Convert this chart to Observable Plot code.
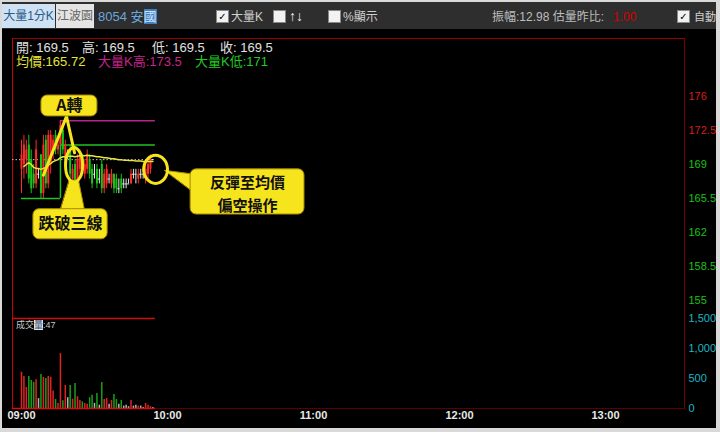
<!DOCTYPE html>
<html><head><meta charset="utf-8">
<script src="https://cdn.jsdelivr.net/npm/d3@7"></script>
<script src="https://cdn.jsdelivr.net/npm/@observablehq/plot@0.6"></script>
<style>
html,body{margin:0;padding:0;background:#d9d9d9;width:720px;height:432px;overflow:hidden;}
#wrap{position:absolute;left:0;top:0;width:716px;height:428px;overflow:hidden;}
#panel{position:absolute;left:2px;top:2px;width:714px;height:426px;background:#000;}
#toolbar{position:absolute;left:2px;top:2px;width:714px;height:27px;background:#2e2e2e;}
.t{position:absolute;white-space:nowrap;font-family:"Liberation Sans","Noto Sans CJK TC",sans-serif;font-size:12px;line-height:14px;color:#d0d0d0;}
.cb{position:absolute;width:11px;height:11px;background:#f2f2f2;border:1px solid #888;top:10px;font:bold 10px/11px "DejaVu Sans",sans-serif;color:#000;text-align:center;}
.ln{position:absolute;}
.plot{position:absolute;left:0;}
.info{font-size:13px;line-height:14px;}
</style></head>
<body>
<div id="wrap">
  <div id="panel"></div>
  <div id="toolbar"></div>
  <div class="t" style="left:2px;top:4px;width:53px;height:24px;line-height:24px;background:#cfe2f3;color:#2a5a8a;text-align:center;">大量1分K</div>
  <div class="t" style="left:56px;top:4px;width:38px;height:24px;line-height:24px;background:#e4e4e4;color:#666;text-align:center;">江波園</div>
  <div class="t" style="left:98px;top:10px;font-size:13px;color:#6aa6dc;">8054 安<span style="background:#3f7fc4;color:#cfe3f7;">國</span></div>
  <div class="cb" style="left:216px;">✓</div>
  <div class="t" style="left:231px;top:10px;">大量K</div>
  <div class="cb" style="left:273px;"></div>
  <div class="t" style="left:289px;top:9px;font-size:14px;font-weight:bold;color:#f0f0f0;">↑↓</div>
  <div class="cb" style="left:328px;"></div>
  <div class="t" style="left:343px;top:10px;">%顯示</div>
  <div class="t" style="left:492px;top:10px;color:#bdbdbd;">振幅:12.98 估量昨比:</div>
  <div class="t" style="left:613px;top:10px;color:#d40000;">1.00</div>
  <div class="cb" style="left:677px;">✓</div>
  <div class="t" style="left:694px;top:10px;font-size:11px;">自動</div>

  <div class="ln" style="left:12px;top:38px;width:672px;height:1px;background:#9a0000;"></div>
  <div class="ln" style="left:12px;top:38px;width:1px;height:371px;background:#c80000;"></div>
  <div class="ln" style="left:684px;top:38px;width:1px;height:371px;background:#7a0000;"></div>
  <div class="ln" style="left:12px;top:408px;width:673px;height:1px;background:#5a0000;"></div>

  <div id="price" class="plot" style="top:38px;"></div>
  <div id="vol" class="plot" style="top:300px;"></div>

  <div class="t info" style="left:16px;top:41px;color:#e0e0e0;">開: 169.5</div>
  <div class="t info" style="left:82px;top:41px;color:#e0e0e0;">高: 169.5</div>
  <div class="t info" style="left:152px;top:41px;color:#e0e0e0;">低: 169.5</div>
  <div class="t info" style="left:220px;top:41px;color:#e0e0e0;">收: 169.5</div>
  <div class="t info" style="left:16px;top:55px;color:#e4e43a;">均價:165.72</div>
  <div class="t info" style="left:98px;top:55px;color:#c8228c;">大量K高:173.5</div>
  <div class="t info" style="left:195px;top:55px;color:#22cc22;">大量K低:171</div>
  <div class="t" style="left:16px;top:320px;font-size:9px;line-height:10px;color:#c8c8c8;">成交<span style="background:#dbe6f3;color:#345;">量</span>:47</div>
</div>
<script>
// ---- data (one-minute bars from 09:00) ----
const open   = [168.5,169,169.5,171,169.5,168,167,168,170,166,171.5,167,169,170,172,170.5,171,172.5,169.5,170,170.5,167.5,169,167,168.5,170,168,168.5,169.5,168.5,168,168.5,167.5,169,166.5,167,167.5,167,168,167.5,166.5,167.5,167,167,167,167,168,168,167.5,168,168,167.5,168,168.5,169.5];
const high   = [171.5,172,171.5,172,170.5,169,171.5,168.5,170,172,172,172.5,172.5,172,172.5,171.5,173.5,173,171.5,170.5,171,169,169.5,170,170.5,170,169.5,170.5,170,169,169,169,168.5,169.5,168.5,169,168,168.5,168,168,167.5,168,167.5,167.5,167.5,168.5,168.5,168.5,168.5,168.5,168,169,169.5,170,169.5];
const low    = [166,167.5,168,167,166,166.5,166.5,167.5,165.5,165.5,166.5,166.5,168,169.5,170,170,171,170,169,169.5,167.5,167,166.5,166.5,168,168,167.5,168,167.5,166.5,167.5,166.5,167,166,166,166.5,167,166.5,166,166,166,166,166.5,166.5,167,167,167.5,167,167,167.5,167.5,167,167.5,168,169.5];
const close  = [170,171,170.5,167.5,166.5,167,170.5,168,166,171,167,172,172,171.5,170.5,171,173,170.5,171,170,168,168.5,167,169.5,170,168.5,169,170,168,167,168,167,167.5,166.5,168,168.5,167.5,168,166.5,166.5,166.5,166.5,167,167,167,168,168,168,168,168,168,168.5,169,169.5,169.5];
const volume = [605,535,350,535,465,435,480,165,565,520,500,535,520,290,150,85,915,130,385,180,385,155,415,195,135,110,85,70,180,220,85,250,55,435,150,165,70,135,235,150,70,135,40,55,30,135,40,55,40,40,15,85,55,30,15];
// average price, minutes 1..54
const avgPrice = [168.8,169,169.2,169,168.7,168.6,168.6,168.5,168.6,168.7,168.9,169.1,169.3,169.4,169.5,169.7,169.8,169.8,169.85,169.85,169.85,169.8,169.85,169.9,169.9,169.9,169.95,169.9,169.9,169.85,169.8,169.8,169.75,169.7,169.7,169.65,169.6,169.6,169.55,169.5,169.5,169.45,169.45,169.4,169.4,169.4,169.35,169.35,169.35,169.3,169.3,169.3,169.3,169.3];

const timeTicks  = [0,60,120,180,240];
const timeLabels = ["09:00","10:00","11:00","12:00","13:00"];
const priceUpTicks   = [176,172.5];
const priceDownTicks = [169,165.5,162,158.5,155];
const volTicks = [0,500,1000,1500];
const refPrice = 169.5;
const bigK = {minute:16, high:173.5, low:171};
const prevBigLow = 165.5;
const dataEnd = 55;
const frameStart = -3.7;

// annotations in data space (minute, price)
const boxes = [
  {x1:8.2, x2:31.2, y1:173.95, y2:176.1},
  {x1:4.9, x2:35.4, y1:161.3, y2:164.4},
  {x1:69.5, x2:116.3, y1:163.85, y2:168.5}
];
const boxTexts = [
  {m:19.7, v:175.0, t:"A轉", s:16},
  {m:20.1, v:162.85, t:"跌破三線", s:16},
  {m:92.9, v:166.15, t:"反彈至均價\n偏空操作", s:15}
];
const aShape = [{m:9.0,v:167.9},{m:18.5,v:173.95},{m:21.8,v:170.2}];
const circles = [{cx:21.6, cy:168.95, rx:3.5, ry:1.8},{cx:55.1, cy:168.5, rx:4.9, ry:1.45}];
const tails = [
  [{m:19.7,v:167.4},{m:23.4,v:167.4},{m:25.9,v:164.3},{m:16.0,v:164.3}],
  [{m:58.8,v:168.4},{m:71.1,v:168.0},{m:71.1,v:166.1}]
];

const UP="#ff2a2a", DOWN="#18c418", FLAT="#e6e6e6";
const VUP="#e02424", VDOWN="#1a9e1a", VFLAT="#b4b4b4";
const candles = open.map((o,i)=>({m:i, o, h:high[i], l:low[i], c:close[i], v:volume[i],
  col: close[i]>o?UP:close[i]<o?DOWN:FLAT, vcol: close[i]>o?VUP:close[i]<o?VDOWN:VFLAT}));
const avgData = avgPrice.map((v,i)=>({m:i+1, v}));
const ellipseData = circles.flatMap((c,j)=>d3.range(8).map(k=>({id:j, m:c.cx+c.rx*Math.cos(k*Math.PI/4), v:c.cy+c.ry*Math.sin(k*Math.PI/4)})));
const tailData = tails.flatMap((t,j)=>t.map(p=>({...p, id:j})));

const YEL="#f6e41c", YELS="#a88a00";
const X = {domain:[0,270], range:[21,678]};
const font = '"Liberation Sans","Noto Sans CJK TC",sans-serif';
const style = {background:"transparent", color:"#ddd", fontFamily:font, fontSize:"11px", overflow:"visible"};

const pricePlot = Plot.plot({
  width:716, height:281, marginLeft:12, marginRight:32, marginTop:0, marginBottom:0,
  x:{...X, axis:null},
  y:{domain:[155,176], range:[262,58]},
  color:{type:"identity"},
  style,
  marks:[
    Plot.ruleY([refPrice], {x1:frameStart, x2:dataEnd, stroke:"#c8c8c8", strokeDasharray:"1.5,2", strokeWidth:1}),
    Plot.ruleY([bigK.high], {x1:bigK.minute, x2:dataEnd, stroke:"#b4248e", strokeWidth:1.5}),
    Plot.ruleY([bigK.low], {x1:bigK.minute, x2:dataEnd, stroke:"#22c322", strokeWidth:1.5}),
    Plot.ruleX([bigK.minute], {y1:bigK.low, y2:bigK.high, stroke:"#b4248e", strokeWidth:1.5}),
    Plot.ruleX([bigK.minute], {y1:prevBigLow, y2:bigK.low, stroke:"#22c322", strokeWidth:1.5}),
    Plot.ruleY([prevBigLow], {x1:0, x2:bigK.minute, stroke:"#22c322", strokeWidth:1.5}),
    Plot.ruleX(candles, {x:"m", y1:"l", y2:"h", stroke:"col", strokeWidth:1}),
    Plot.ruleX(candles.filter(d=>d.o!==d.c), {x:"m", y1:"o", y2:"c", stroke:"col", strokeWidth:2}),
    Plot.ruleY(candles.filter(d=>d.o===d.c), {y:"c", x1:d=>d.m-0.45, x2:d=>d.m+0.45, stroke:"col", strokeWidth:1}),
    Plot.line(avgData, {x:"m", y:"v", stroke:"#e6e63c", strokeWidth:1.5}),
    Plot.axisY(priceUpTicks, {anchor:"right", tickSize:0, tickPadding:4, fill:"#d81c1c", fontSize:11, label:null, tickFormat:d=>String(d)}),
    Plot.axisY(priceDownTicks, {anchor:"right", tickSize:0, tickPadding:4, fill:"#18c018", fontSize:11, label:null, tickFormat:d=>String(d)}),
    // annotations
    Plot.line(tailData, {x:"m", y:"v", z:"id", curve:"linear-closed", fill:YEL, stroke:YELS, strokeWidth:1}),
    Plot.line(aShape, {x:"m", y:"v", stroke:YEL, strokeWidth:3, strokeLinejoin:"miter"}),
    Plot.line(ellipseData, {x:"m", y:"v", z:"id", curve:"catmull-rom-closed", stroke:YEL, strokeWidth:3}),
    Plot.rect(boxes, {x1:"x1", x2:"x2", y1:"y1", y2:"y2", fill:YEL, stroke:YELS, strokeWidth:1, rx:6}),
    Plot.text(boxTexts.filter(d=>d.s===16), {x:"m", y:"v", text:"t", fill:"#111", fontSize:16, fontWeight:"bold", fontFamily:'"Noto Sans CJK TC",sans-serif'}),
    Plot.text(boxTexts.filter(d=>d.s===15), {x:"m", y:"v", text:"t", fill:"#111", fontSize:15, lineHeight:1.5, fontWeight:"bold", fontFamily:'"Noto Sans CJK TC",sans-serif'})
  ]
});
document.getElementById("price").appendChild(pricePlot);

const volPlot = Plot.plot({
  width:716, height:128, marginLeft:12, marginRight:32, marginTop:0, marginBottom:20,
  x:{...X},
  y:{domain:[0,1500], range:[108,18]},
  color:{type:"identity"},
  style,
  marks:[
    Plot.ruleX(candles, {x:"m", y1:0, y2:"v", stroke:"vcol", strokeWidth:1.5}),
    Plot.ruleY([1500], {x1:frameStart, x2:dataEnd, stroke:"#d01010", strokeWidth:1.5}),
    Plot.ruleY([0], {x1:frameStart, x2:dataEnd, stroke:"#d01010", strokeWidth:1.5}),
    Plot.axisY(volTicks, {anchor:"right", tickSize:0, tickPadding:4, fill:"#1fb5c5", fontSize:11, label:null, tickFormat:d3.format(",")}),
    Plot.axisX(timeTicks, {anchor:"bottom", tickSize:0, tickPadding:3, fill:"#e8e8e8", fontSize:11, fontWeight:"bold", label:null, tickFormat:d=>timeLabels[timeTicks.indexOf(d)]})
  ]
});
document.getElementById("vol").appendChild(volPlot);
</script>
</body></html>
